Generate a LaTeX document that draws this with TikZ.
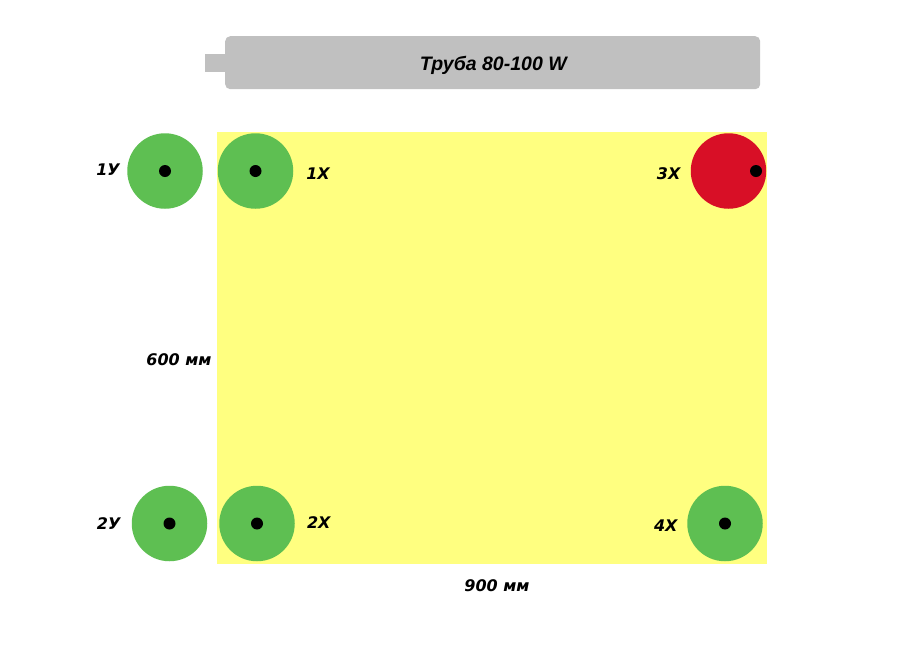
\documentclass[tikz,border=0pt]{standalone}
\usepackage{fontspec}
\setmainfont{Liberation Sans}
\newfontfamily\lblfont{DejaVu Sans}
\definecolor{padgreen}{HTML}{5EBF52}
\definecolor{padred}{HTML}{D80F26}
\definecolor{plate}{HTML}{FFFF80}
\definecolor{tubegray}{HTML}{C0C0C0}
\tikzset{
  pad/.style={circle,fill=padgreen,minimum size=75.5pt,inner sep=0pt},
  hotpad/.style={pad,fill=padred},
  hole/.style={circle,fill=black,minimum size=12pt,inner sep=0pt},
  lbl/.style={font=\lblfont\fontsize{16}{18}\selectfont\bfseries\itshape,inner sep=0pt,anchor=base},
  tubelbl/.style={font=\fontsize{19.5}{22}\selectfont\bfseries\itshape,inner sep=0pt,anchor=base},
}
\begin{document}
\begin{tikzpicture}[x=1pt,y=-1pt]
\useasboundingbox[fill=white] (0,0) rectangle (914,665);
% tube
\fill[tubegray] (205,54) rectangle (230,72);
\node[fill=tubegray,rounded corners=5pt,minimum width=535pt,minimum height=53pt,inner sep=0pt,anchor=north west] (tube) at (225,36) {};
\node[tubelbl] (tubetext) at (493.3,70.7) {Труба 80-100 W};
% plate
\fill[plate] (217,132) rectangle (767,563.5);
% pads
\node[pad] (p1y) at (165,171) {};
\node[pad] (p1x) at (255.5,171) {};
\node[hotpad] (p3x) at (728.5,171) {};
\node[pad] (p2y) at (169.5,523.5) {};
\node[pad] (p2x) at (257,523.5) {};
\node[pad] (p4x) at (725,523.5) {};
\node[hole] (h1y) at (p1y) {};
\node[hole] (h1x) at (p1x) {};
\node[hole] (h3x) at (756,171) {};
\node[hole] (h2y) at (p2y) {};
\node[hole] (h2x) at (p2x) {};
\node[hole] (h4x) at (p4x) {};
% labels
\node[lbl] (l1y) at (108,175.7) {1У};
\node[lbl] (l1x) at (318,179.5) {1X};
\node[lbl] (l3x) at (668.7,179.3) {3X};
\node[lbl] (l2y) at (108.7,529) {2У};
\node[lbl] (l2x) at (318.8,528.3) {2X};
\node[lbl] (l4x) at (665.8,531) {4X};
\node[lbl] (l600) at (179,365.7) {600 мм};
\node[lbl] (l900) at (497,591.5) {900 мм};
\end{tikzpicture}
\end{document}
